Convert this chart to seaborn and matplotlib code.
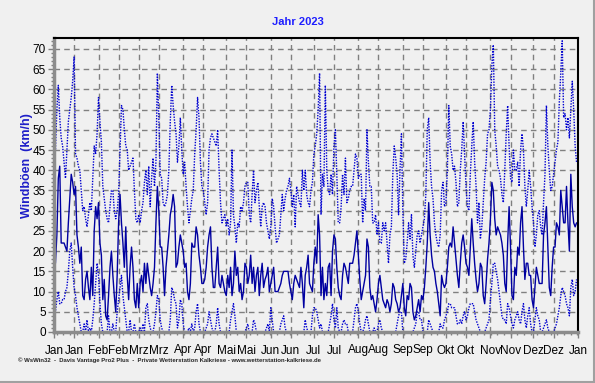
import numpy as np
import pandas as pd
import matplotlib
matplotlib.use("Agg")
import matplotlib.pyplot as plt
import matplotlib.dates as mdates
from matplotlib.ticker import MultipleLocator, FixedLocator
from matplotlib.lines import Line2D
import seaborn as sns

# Windböen 2023 (km/h), ein Wert pro Tag, zeilenweise nach Monat
boeen_max = [
    51, 45, 55, 61, 53, 48, 46, 42, 38, 45, 52, 55, 58, 62, 68, 44, 43, 41, 40, 35, 30, 31, 28, 26, 29, 32, 30, 38, 46, 44, 49,
    58, 52, 47, 36, 33, 30, 28, 27, 31, 35, 35, 30, 28, 30, 34, 45, 56, 55, 50, 46, 45, 40, 41, 42, 43, 35, 28, 27,
    29, 27, 30, 32, 37, 40, 34, 41, 31, 38, 43, 36, 42, 64, 53, 39, 38, 32, 31, 32, 34, 40, 52, 61, 56, 52, 49, 42, 46, 53, 45,
    39, 42, 36, 31, 27, 30, 33, 35, 44, 50, 58, 53, 42, 36, 35, 32, 29, 32, 45, 48, 49, 48, 47, 46, 50, 40, 32, 27, 28, 29,
    26, 28, 24, 27, 45, 29, 26, 22, 27, 26, 31, 30, 32, 36, 37, 37, 29, 27, 34, 40, 32, 35, 37, 31, 26, 31, 32, 31, 27, 25, 23,
    26, 33, 31, 26, 22, 23, 24, 29, 34, 30, 33, 35, 36, 38, 35, 31, 34, 26, 36, 34, 32, 31, 40, 35, 40, 34, 32, 31, 35, 37,
    44, 46, 49, 55, 64, 29, 39, 36, 61, 40, 35, 34, 39, 34, 46, 50, 39, 27, 27, 31, 39, 34, 43, 32, 33, 35, 36, 36, 40, 44, 43,
    38, 39, 39, 27, 33, 30, 50, 42, 36, 36, 27, 27, 29, 24, 27, 22, 22, 27, 25, 27, 22, 17, 24, 26, 39, 46, 43, 39, 29, 40, 49,
    30, 17, 18, 22, 27, 23, 29, 19, 16, 20, 24, 25, 22, 24, 26, 28, 34, 50, 53, 42, 36, 33, 27, 24, 22, 21, 24, 35, 37, 31,
    32, 40, 56, 46, 44, 40, 41, 37, 31, 32, 40, 45, 52, 44, 36, 31, 30, 39, 46, 52, 42, 36, 27, 32, 23, 26, 32, 38, 42, 49, 50,
    55, 66, 71, 50, 46, 41, 40, 38, 34, 32, 40, 49, 56, 46, 38, 37, 45, 40, 40, 42, 36, 45, 49, 45, 36, 31, 35, 40, 36, 31,
    27, 21, 24, 29, 30, 26, 24, 32, 39, 56, 46, 40, 35, 36, 39, 42, 45, 47, 57, 64, 72, 53, 54, 50, 53, 48, 55, 62, 55, 46, 42,
]
boeen_mittel = [
    31, 17, 24, 38, 41, 22, 22, 22, 21, 20, 27, 33, 39, 37, 34, 36, 24, 21, 17, 21, 9, 8, 13, 15, 11, 8, 16, 9, 25, 31, 28,
    32, 22, 19, 8, 13, 4, 3, 9, 16, 20, 14, 9, 5, 14, 27, 34, 27, 22, 16, 26, 14, 8, 16, 21, 16, 8, 6, 12,
    6, 12, 14, 10, 17, 12, 17, 14, 11, 9, 12, 16, 27, 36, 30, 21, 21, 16, 9, 16, 20, 24, 29, 31, 34, 31, 16, 17, 21, 24, 22,
    20, 16, 17, 10, 8, 12, 22, 21, 21, 26, 24, 19, 16, 12, 12, 13, 16, 21, 24, 26, 16, 11, 11, 16, 21, 12, 11, 14, 12, 10,
    9, 14, 11, 16, 9, 12, 20, 14, 16, 10, 12, 8, 10, 17, 16, 12, 14, 19, 12, 16, 10, 14, 16, 9, 14, 17, 11, 13, 14, 16, 10,
    12, 14, 16, 10, 10, 10, 11, 12, 14, 15, 15, 15, 15, 12, 10, 8, 12, 14, 13, 12, 11, 16, 12, 6, 14, 16, 19, 12, 11, 10,
    17, 21, 17, 29, 24, 9, 16, 8, 12, 9, 16, 17, 9, 20, 24, 23, 16, 11, 9, 8, 14, 17, 16, 14, 12, 17, 17, 17, 19, 22, 25,
    19, 13, 8, 10, 12, 14, 23, 21, 11, 8, 9, 7, 5, 8, 12, 14, 11, 8, 7, 6, 8, 7, 5, 7, 12, 11, 8, 7, 5, 6, 9,
    12, 6, 4, 9, 8, 12, 11, 5, 3, 4, 6, 8, 5, 9, 8, 11, 16, 22, 32, 24, 19, 16, 15, 12, 10, 7, 4, 14, 12, 11,
    12, 16, 21, 22, 21, 26, 22, 18, 14, 11, 17, 22, 24, 21, 17, 16, 14, 21, 28, 22, 17, 13, 10, 12, 17, 16, 9, 7, 12, 18, 22,
    28, 37, 35, 28, 24, 26, 25, 24, 22, 19, 12, 10, 22, 31, 21, 9, 8, 16, 14, 21, 19, 27, 31, 21, 13, 17, 17, 14, 14, 8,
    6, 11, 16, 14, 12, 12, 12, 24, 27, 31, 21, 11, 9, 16, 21, 21, 27, 26, 24, 35, 31, 27, 27, 36, 27, 20, 39, 31, 27, 26, 27,
]
boeen_min = [
    6, 5, 8, 10, 7, 7, 8, 8, 10, 11, 15, 20, 22, 16, 11, 9, 6, 4, 2, 0, 0, 2, 0, 3, 0, 1, 0, 3, 7, 12, 17,
    14, 7, 2, 0, 0, 0, 0, 4, 0, 0, 2, 0, 0, 5, 8, 11, 14, 9, 6, 3, 0, 0, 3, 0, 0, 2, 0, 0,
    0, 1, 0, 2, 0, 6, 7, 3, 1, 0, 0, 2, 5, 9, 8, 3, 1, 0, 0, 0, 0, 0, 3, 11, 10, 8, 7, 1, 3, 8, 7,
    2, 0, 0, 0, 1, 0, 2, 0, 1, 5, 7, 2, 0, 0, 0, 0, 1, 2, 5, 3, 1, 0, 0, 2, 6, 2, 0, 0, 0, 0,
    0, 0, 0, 3, 5, 7, 4, 0, 0, 0, 0, 0, 0, 0, 1, 2, 0, 0, 0, 3, 2, 0, 0, 0, 0, 0, 0, 0, 1, 2, 0,
    6, 3, 0, 0, 0, 0, 0, 2, 3, 4, 1, 0, 0, 0, 0, 0, 0, 0, 0, 0, 0, 0, 0, 0, 3, 1, 0, 0, 0, 4,
    6, 6, 5, 3, 1, 2, 0, 0, 0, 0, 0, 2, 4, 7, 3, 1, 6, 1, 0, 0, 2, 3, 2, 2, 0, 0, 0, 0, 3, 6, 7,
    5, 2, 0, 0, 1, 3, 4, 2, 0, 0, 0, 1, 0, 0, 2, 3, 1, 0, 0, 0, 0, 0, 0, 0, 0, 0, 0, 2, 4, 5, 5,
    0, 0, 0, 0, 0, 0, 0, 0, 1, 2, 5, 5, 3, 3, 0, 0, 0, 0, 3, 2, 1, 0, 0, 0, 0, 0, 2, 1, 1, 3,
    4, 5, 7, 7, 6, 6, 6, 4, 2, 2, 3, 2, 4, 5, 3, 4, 6, 7, 7, 7, 5, 3, 2, 1, 0, 0, 0, 0, 1, 2, 3,
    8, 12, 17, 17, 15, 13, 10, 7, 4, 3, 3, 2, 7, 6, 4, 2, 1, 3, 4, 5, 3, 2, 5, 7, 3, 1, 4, 6, 2, 0,
    0, 3, 6, 4, 3, 0, 0, 1, 2, 3, 1, 0, 0, 0, 0, 1, 2, 4, 6, 9, 11, 10, 9, 7, 6, 4, 11, 13, 9, 10, 13,
]

monat_labels = ["Jan", "Jan", "Feb", "Feb", "Mrz", "Mrz", "Apr", "Apr", "Mai", "Mai", "Jun", "Jun",
                "Jul", "Jul", "Aug", "Aug", "Sep", "Sep", "Okt", "Okt", "Nov", "Nov", "Dez", "Dez", "Jan"]

tage = pd.date_range("2023-01-01", "2023-12-31", freq="D")
df = pd.DataFrame({"Datum": tage, "max": boeen_max, "mittel": boeen_mittel, "min": boeen_min})

sns.set_theme(style="ticks")
plt.rcParams["font.family"] = ["Liberation Sans", "DejaVu Sans"]

W, H = 595, 383
fig = plt.figure(figsize=(W / 100, H / 100), dpi=100, facecolor="#f0f0f0")
ax = fig.add_axes([54 / W, 1 - 332 / H, 524 / W, 294 / H])
ax.set_facecolor("#f0f0f0")

dotted = (0, (1, 1))
sns.lineplot(data=df, x="Datum", y="max", ax=ax, color="#0000d0", linewidth=1.0, linestyle=dotted)
sns.lineplot(data=df, x="Datum", y="min", ax=ax, color="#0000d0", linewidth=1.0, linestyle=dotted)
sns.lineplot(data=df, x="Datum", y="mittel", ax=ax, color="#0000a0", linewidth=1.0)

start = pd.Timestamp("2023-01-01")
ende = pd.Timestamp("2024-01-01")
ax.set_xlim(start, ende)
ax.set_ylim(0, 72.7)

# Hauptticks am 1. und 15. jedes Monats
tick_tage = []
for m in range(1, 13):
    tick_tage.append(pd.Timestamp(2023, m, 1))
    tick_tage.append(pd.Timestamp(2023, m, 15))
tick_tage.append(ende)
ax.xaxis.set_major_locator(FixedLocator(mdates.date2num(tick_tage)))
ax.set_xticklabels(monat_labels)
ax.xaxis.set_minor_locator(FixedLocator(mdates.date2num(start) + np.arange(1.9, 365, 4.65)))

ax.yaxis.set_major_locator(MultipleLocator(5))
ax.yaxis.set_minor_locator(MultipleLocator(1))

ax.grid(True, which="major", color="#808080", linestyle=(0, (4, 3)), linewidth=1.0)
ax.set_axisbelow(True)

ax.set_xlabel("")
ax.set_ylabel("")

for s in ["top", "right"]:
    ax.spines[s].set_color("black")
    ax.spines[s].set_linewidth(1.5)
for s in ["left", "bottom"]:
    ax.spines[s].set_color("#8c8c8c")
    ax.spines[s].set_linewidth(2.5)

ax.tick_params(axis="both", which="major", labelsize=8.5, colors="#808080", labelcolor="black",
               length=4, width=1, pad=2)
ax.tick_params(axis="both", which="minor", colors="#808080", length=2.5, width=1)
ax.tick_params(axis="x", which="major", pad=5)

fig.text(0.5, 1 - 22 / H, "Jahr 2023", color="#1e1eff", fontweight="bold", fontsize=8,
         ha="center", va="center")
fig.text(27 / W, 1 - 166 / H, "Windböen  (km/h)", color="#1e1ec8", fontweight="bold", fontsize=9,
         rotation=90, ha="center", va="center")
fig.text(18 / W, 1 - 360 / H,
         "© WsWin32  -  Davis Vantage Pro2 Plus  -  Private Wetterstation Kalkriese - www.wetterstation-kalkriese.de",
         fontsize=4.3, fontweight="bold", ha="left", va="center")

# Rahmen des Fensters
fig.add_artist(Line2D([0, 1], [1.5 / H, 1.5 / H], transform=fig.transFigure, color="#a0a0a0", linewidth=1.5))
fig.add_artist(Line2D([1 - 1.5 / W, 1 - 1.5 / W], [0, 1], transform=fig.transFigure, color="#a0a0a0", linewidth=1.5))

fig.savefig("out.png", dpi=100, facecolor=fig.get_facecolor())
